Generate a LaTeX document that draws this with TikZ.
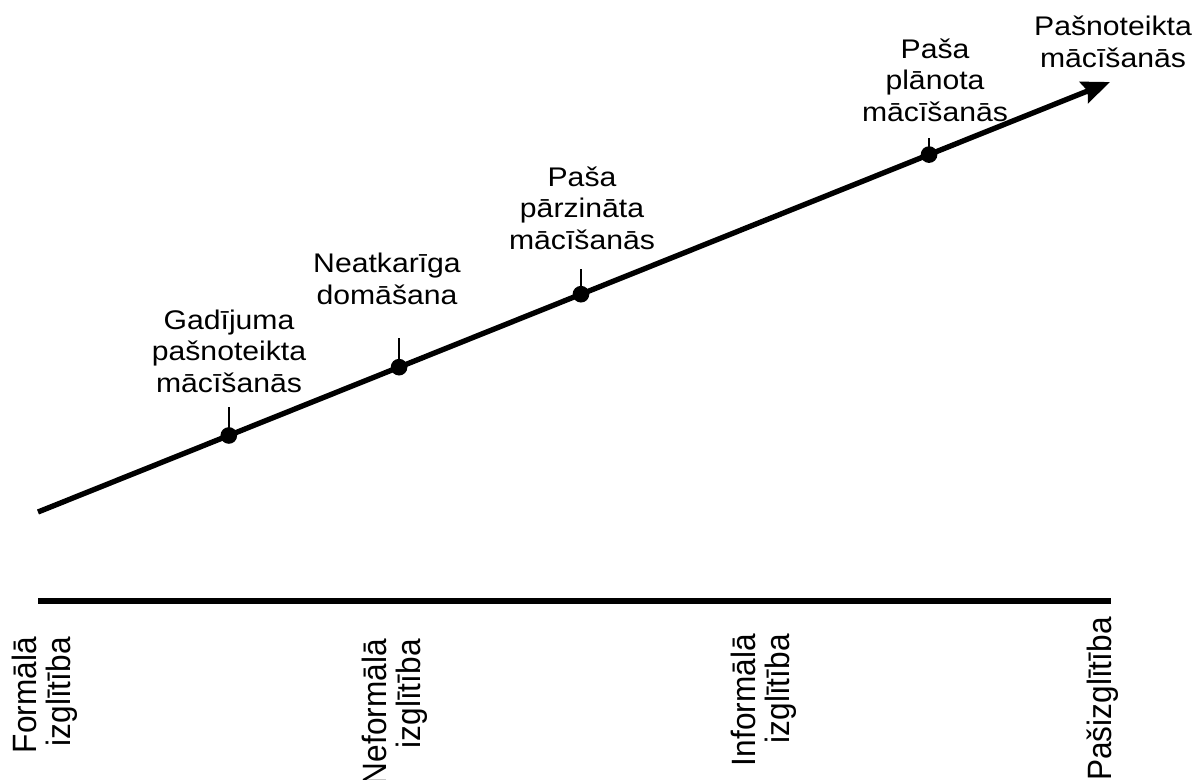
\documentclass[tikz,border=0pt]{standalone}
\usepackage{fontspec}
\setmainfont{Liberation Sans}
\newfontfamily\upperfont[FakeStretch=1.12]{Liberation Sans}
\newfontfamily\lowerfont[FakeStretch=0.937]{Liberation Sans}
\usetikzlibrary{arrows.meta,calc}

\tikzset{
  trend/.style={line width=4pt, -{Stealth[length=21pt,width=17pt,inset=3pt]}},
  axisline/.style={line width=4pt},
  stage/.style={circle, fill=black, inner sep=0pt, minimum size=12.5pt},
  stagetick/.style={line width=1.6pt},
  stagelabel/.style={font=\upperfont\fontsize{20.2}{23.8}\selectfont,
    align=center, anchor=south, inner sep=0pt},
  formlabel/.style={font=\lowerfont\fontsize{25.3}{25.5}\selectfont,
    align=right, rotate=90, anchor=east, inner sep=0pt},
}

\begin{document}
\begin{tikzpicture}[x=0.75pt,y=-0.75pt]
  \path[use as bounding box] (0,0) rectangle (1196,779);

  % rising line of self-directed learning
  \coordinate (start) at (38,512);
  \coordinate (end) at (1110,82);
  \draw[trend] (start) -- (end);

  % stages on the line
  \node[stage] (d1) at ($(start)!0.178!(end)$) {};
  \node[stage] (d2) at ($(start)!0.3368!(end)$) {};
  \node[stage] (d3) at ($(start)!0.5065!(end)$) {};
  \node[stage] (d4) at ($(start)!0.8312!(end)$) {};

  \coordinate (t1) at ($(d1.center)+(0,-28)$);
  \coordinate (t2) at ($(d2.center)+(0,-29)$);
  \coordinate (t3) at ($(d3.center)+(0,-25)$);
  \coordinate (t4) at ($(d4.center)+(0,-17)$);
  \draw[stagetick] (d1.center) -- (t1);
  \draw[stagetick] (d2.center) -- (t2);
  \draw[stagetick] (d3.center) -- (t3);
  \draw[stagetick] (d4.center) -- (t4);

  \node[stagelabel] (l1) at (229,393) {Gadījuma\\pašnoteikta\\mācīšanās};
  \node[stagelabel] (l2) at (387,305) {Neatkarīga\\domāšana};
  \node[stagelabel] (l3) at (582,250) {Paša\\pārzināta\\mācīšanās};
  \node[stagelabel] (l4) at (935,122) {Paša\\plānota\\mācīšanās};
  \node[stagelabel] (l5) at (1113,68) {Pašnoteikta\\mācīšanās};

  % forms of education
  \coordinate (a0) at (38,601);
  \coordinate (a1) at (1111,601);
  \draw[axisline] (a0) -- (a1);

  \node[formlabel] (f1) at (45,637) {Formālā\\izglītība};
  \node[formlabel] (f2) at (395,639) {Neformālā\\izglītība};
  \node[formlabel] (f3) at (764,634) {Informālā\\izglītība};
  \node[formlabel] (f4) at (1103,617) {Pašizglītība};
\end{tikzpicture}
\end{document}
